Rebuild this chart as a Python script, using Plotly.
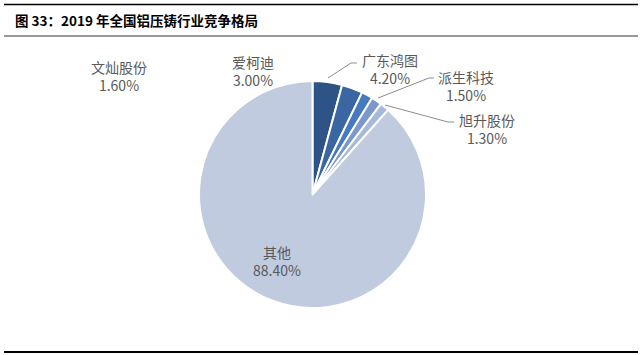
import plotly.graph_objects as go

# ---- data ----
labels = ["广东鸿图", "爱柯迪", "文灿股份", "派生科技", "旭升股份", "其他"]
values = [4.20, 3.00, 1.60, 1.50, 1.30, 88.40]
colors = ["#2E5487", "#3A66A2", "#4779BE", "#7B98CB", "#A7B8DA", "#C0CBDF"]
title_text = "图 33：2019 年全国铝压铸行业竞争格局"

W, H = 640, 355


def px(x):
    return x / W


def py(y):
    return 1 - y / H


# pie geometry (pixels)
cx, cy, r = 312.5, 194.5, 113.5

fig = go.Figure()
fig.add_trace(go.Pie(
    labels=labels,
    values=values,
    sort=False,
    direction="clockwise",
    rotation=0,
    textinfo="none",
    hoverinfo="label+percent",
    marker=dict(colors=colors, line=dict(color="white", width=2)),
    domain=dict(x=[px(cx - r), px(cx + r)], y=[py(cy + r), py(cy - r)]),
    showlegend=False,
))

# label positions (pixel centers)
label_pos = {
    "广东鸿图": (390, 69),
    "爱柯迪": (253, 71),
    "文灿股份": (119, 76),
    "派生科技": (466, 86),
    "旭升股份": (487, 129),
    "其他": (277, 261),
}
annotations = []
for lab, val in zip(labels, values):
    x, y = label_pos[lab]
    annotations.append(dict(
        x=px(x), y=py(y), xref="paper", yref="paper",
        text=f"{lab}<br>{val:.2f}%", showarrow=False,
        xanchor="center", yanchor="middle",
        font=dict(family="Noto Sans CJK SC, Noto Sans", size=14, color="#595959"),
    ))

# title
annotations.append(dict(
    x=px(13), y=py(20), xref="paper", yref="paper",
    text="<b>" + title_text + "</b>", showarrow=False,
    xanchor="left", yanchor="middle",
    font=dict(family="Noto Sans CJK SC, Noto Sans", size=13.5, color="#000000"),
))


def path(points):
    s = "M " + " L ".join(f"{px(x)},{py(y)}" for x, y in points)
    return s


leaders = [
    [(328, 78), (351, 63), (357, 63)],
    [(378, 98), (429, 78), (434, 78)],
    [(385, 105), (448, 122), (454, 122)],
]
shapes = []
for pts in leaders:
    shapes.append(dict(type="path", xref="paper", yref="paper", path=path(pts),
                       line=dict(color="#8C8C8C", width=1)))

# rules
shapes.append(dict(type="line", xref="paper", yref="paper", x0=px(4), x1=px(638),
                   y0=py(4.5), y1=py(4.5), line=dict(color="#000000", width=1.5)))
shapes.append(dict(type="line", xref="paper", yref="paper", x0=px(4), x1=px(638),
                   y0=py(36), y1=py(36), line=dict(color="#333333", width=1)))
shapes.append(dict(type="line", xref="paper", yref="paper", x0=px(4), x1=px(638),
                   y0=py(352), y1=py(352), line=dict(color="#000000", width=2)))

fig.update_layout(
    width=W, height=H,
    margin=dict(l=0, r=0, t=0, b=0),
    paper_bgcolor="white", plot_bgcolor="white",
    annotations=annotations,
    shapes=shapes,
)

fig.write_html("out.html", config={"displayModeBar": False},
               post_script="document.body.style.margin='0';")
